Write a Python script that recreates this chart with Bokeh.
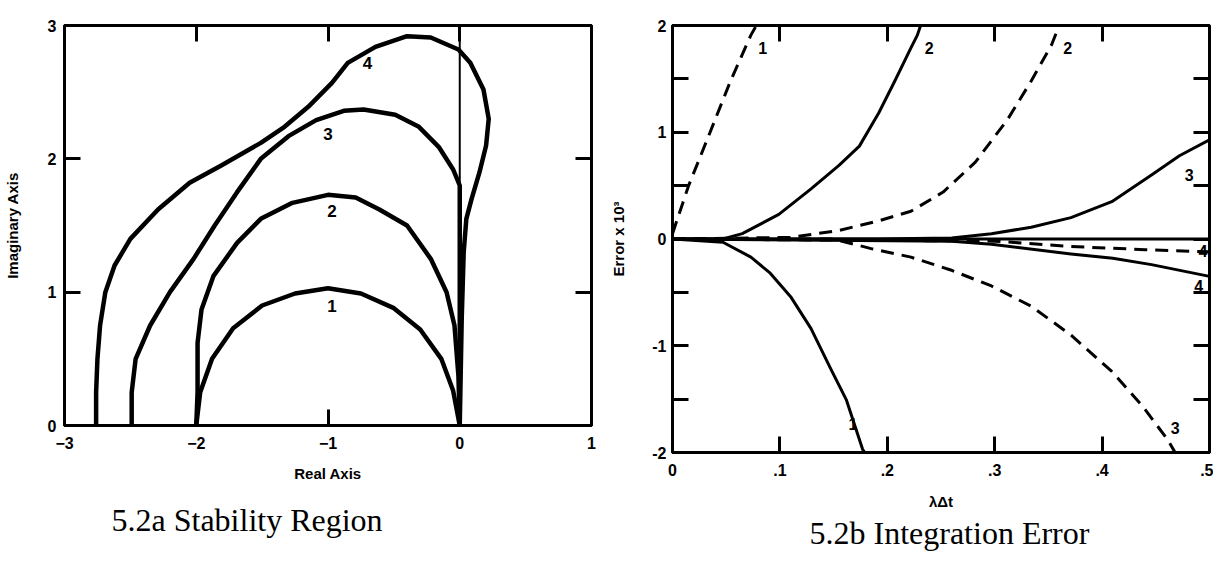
from bokeh.plotting import figure
from bokeh.models import Range1d, LinearAxis, FixedTicker, CustomJSTickFormatter, Span, Title
from bokeh.layouts import row
from bokeh.embed import file_html
from bokeh.resources import INLINE
from bokeh.core.properties import value

# ---------------- data: 5.2a stability region ----------------
c1_x = [-2.0, -1.97, -1.88, -1.72, -1.5, -1.25, -1.0, -0.75, -0.5, -0.3, -0.14, -0.05, 0.0]
c1_y = [0.0, 0.25, 0.5, 0.73, 0.9, 0.99, 1.03, 0.99, 0.88, 0.72, 0.5, 0.26, 0.0]

c2_x = [-2.0, -1.99, -1.99, -1.96, -1.87, -1.69, -1.51, -1.27, -1.0, -0.79, -0.61, -0.4, -0.22, -0.1, -0.04, -0.01, 0.0]
c2_y = [0.0, 0.25, 0.62, 0.87, 1.12, 1.37, 1.55, 1.67, 1.73, 1.71, 1.62, 1.5, 1.25, 1.0, 0.75, 0.37, 0.0]

c3_x = [-2.49, -2.49, -2.46, -2.35, -2.2, -2.02, -1.86, -1.69, -1.51, -1.3, -1.09, -0.88, -0.73,
        -0.49, -0.31, -0.16, -0.05, 0.0, 0.0, 0.0]
c3_y = [0.0, 0.25, 0.5, 0.75, 1.0, 1.25, 1.5, 1.75, 2.0, 2.17, 2.29, 2.36, 2.37,
        2.33, 2.24, 2.09, 1.92, 1.8, 1.2, 0.0]

c4_x = [-2.76, -2.76, -2.75, -2.73, -2.69, -2.62, -2.5, -2.29, -2.05, -1.81, -1.51, -1.33, -1.15,
        -0.97, -0.85, -0.64, -0.4, -0.22, -0.01, 0.08, 0.18, 0.22, 0.2, 0.15, 0.09, 0.05, 0.03, 0.015, 0.0]
c4_y = [0.0, 0.25, 0.5, 0.75, 1.0, 1.2, 1.4, 1.62, 1.82, 1.95, 2.12, 2.24, 2.39,
        2.57, 2.72, 2.84, 2.92, 2.91, 2.82, 2.72, 2.52, 2.3, 2.1, 1.9, 1.7, 1.55, 1.3, 0.8, 0.0]

a_lab_x = [-0.97, -0.97, -1.0, -0.70]
a_lab_y = [0.9, 1.61, 2.19, 2.72]
a_lab_t = ["1", "2", "3", "4"]

a_xticks = [-3, -2, -1, 0, 1]
a_yticks = [0, 1, 2, 3]

# ---------------- data: 5.2b integration error ----------------
s1_x = [0.0, 0.047, 0.073, 0.091, 0.11, 0.129, 0.147, 0.162, 0.177, 0.179]
s1_y = [0.0, -0.03, -0.17, -0.32, -0.54, -0.84, -1.21, -1.51, -1.97, -2.0]

d1_x = [0.0, 0.015, 0.035, 0.054, 0.073, 0.078]
d1_y = [0.05, 0.5, 1.0, 1.48, 1.91, 2.0]

s2_x = [0.0, 0.047, 0.065, 0.099, 0.129, 0.155, 0.174, 0.192, 0.207, 0.222, 0.228, 0.231]
s2_y = [0.0, 0.0, 0.05, 0.23, 0.47, 0.69, 0.87, 1.18, 1.48, 1.79, 1.91, 2.0]

d2_x = [0.0, 0.11, 0.155, 0.192, 0.222, 0.252, 0.282, 0.312, 0.334, 0.353, 0.36]
d2_y = [0.0, 0.015, 0.08, 0.17, 0.26, 0.44, 0.72, 1.12, 1.48, 1.82, 2.0]

s3_x = [0.0, 0.19, 0.26, 0.297, 0.334, 0.371, 0.409, 0.446, 0.472, 0.5]
s3_y = [0.0, 0.0, 0.01, 0.05, 0.11, 0.2, 0.35, 0.6, 0.78, 0.93]

d3_x = [0.0, 0.15, 0.185, 0.222, 0.259, 0.297, 0.334, 0.371, 0.409, 0.438, 0.461, 0.468]
d3_y = [0.0, 0.0, -0.09, -0.17, -0.29, -0.44, -0.63, -0.9, -1.24, -1.57, -1.88, -2.0]

s4_x = [0.0, 0.26, 0.297, 0.371, 0.41, 0.446, 0.5]
s4_y = [0.0, -0.02, -0.05, -0.14, -0.18, -0.24, -0.35]

d4_x = [0.0, 0.3, 0.371, 0.44, 0.5]
d4_y = [0.0, -0.02, -0.07, -0.1, -0.12]

b_lab_x = [0.084, 0.239, 0.368, 0.481, 0.168, 0.468, 0.49, 0.494]
b_lab_y = [1.79, 1.79, 1.79, 0.6, -1.73, -1.77, -0.44, -0.11]
b_lab_t = ["1", "2", "2", "3", "1", "3", "4", "4"]

b_xticks = [0, 0.1, 0.2, 0.3, 0.4, 0.5]
b_yticks = [-2, -1, 0, 1, 2]
b_yminor = [-1.5, -0.5, 0.5, 1.5]

SANS = "Liberation Sans"
SERIF = "Liberation Serif"
BLANK = CustomJSTickFormatter(code="return ''")


def base_axis(ax, ticks, tick_len, minor=None):
    ax.ticker = FixedTicker(ticks=ticks, minor_ticks=minor or [])
    ax.major_tick_in = tick_len
    ax.major_tick_out = 0
    ax.minor_tick_in = tick_len if minor else 0
    ax.minor_tick_out = 0
    ax.major_tick_line_width = 3
    ax.minor_tick_line_width = 3
    ax.axis_line_width = 3
    ax.axis_line_color = "black"
    ax.major_label_text_font = SANS
    ax.major_label_text_font_style = "bold"
    ax.major_label_text_font_size = "16px"
    ax.major_label_text_color = "black"
    ax.axis_label_text_font = SANS
    ax.axis_label_text_font_style = "bold"
    ax.axis_label_text_font_size = "15px"
    ax.axis_label_text_color = "black"


def mirror(p, side, ticks, tick_len, minor=None):
    ax = LinearAxis()
    base_axis(ax, ticks, tick_len, minor)
    ax.formatter = BLANK
    ax.major_label_standoff = 0
    p.add_layout(ax, side)


# ---------------- figure a ----------------
pa = figure(output_backend="svg", toolbar_location=None, tools="",
            frame_width=527, frame_height=400,
            x_range=Range1d(-3, 1), y_range=Range1d(0, 3),
            min_border_left=57, min_border_right=16, min_border_top=25, min_border_bottom=126)
pa.grid.visible = False
pa.outline_line_color = "black"
pa.outline_line_width = 3

base_axis(pa.xaxis[0], a_xticks, 16)
pa.xaxis[0].axis_label = "Real Axis"
pa.xaxis[0].major_label_standoff = 11
pa.xaxis[0].axis_label_standoff = 13
base_axis(pa.yaxis[0], a_yticks, 16)
pa.yaxis[0].axis_label = "Imaginary Axis"
pa.yaxis[0].major_label_standoff = 8
pa.yaxis[0].axis_label_standoff = 24
pa.yaxis[0].major_label_orientation = "horizontal"
mirror(pa, "above", [-2, -1, 0], 16)
mirror(pa, "right", [1, 2], 16)

pa.add_layout(Span(location=0, dimension="height", line_color="black", line_width=2))
for xs, ys in [(c1_x, c1_y), (c2_x, c2_y), (c3_x, c3_y), (c4_x, c4_y)]:
    pa.line(xs, ys, line_color="black", line_width=4.5, line_join="round", line_cap="round")
pa.text(a_lab_x, a_lab_y, text=a_lab_t, text_font=value(SANS), text_font_style="bold",
        text_font_size="17px", text_align="center", text_baseline="middle", text_color="black")
pa.add_layout(Title(text="5.2a Stability Region", align="left", offset=47,
                    text_font=SERIF, text_font_size="32px", text_font_style="normal",
                    text_color="black", standoff=30), "below")

# ---------------- figure b ----------------
pb = figure(output_backend="svg", toolbar_location=None, tools="",
            frame_width=537, frame_height=427,
            x_range=Range1d(0, 0.5), y_range=Range1d(-2, 2),
            min_border_left=57, min_border_right=4, min_border_top=12, min_border_bottom=112)
pb.grid.visible = False
pb.outline_line_color = "black"
pb.outline_line_width = 3

base_axis(pb.xaxis[0], b_xticks, 16)
pb.xaxis[0].formatter = CustomJSTickFormatter(
    code="return tick == 0 ? '0' : '.' + Math.round(tick * 10);")
pb.xaxis[0].axis_label = "λΔt"
pb.xaxis[0].major_label_standoff = 11
pb.xaxis[0].axis_label_standoff = 14
base_axis(pb.yaxis[0], b_yticks, 16, b_yminor)
pb.yaxis[0].formatter = CustomJSTickFormatter(code="return tick < 0 ? '-' + (-tick) : '' + tick;")
pb.yaxis[0].axis_label = "Error x 10³"
pb.yaxis[0].major_label_standoff = 6
pb.yaxis[0].axis_label_standoff = 22
pb.yaxis[0].major_label_orientation = "horizontal"
mirror(pb, "above", [0.1, 0.2, 0.3, 0.4], 16)
mirror(pb, "right", b_yticks, 16, b_yminor)

pb.add_layout(Span(location=0, dimension="width", line_color="black", line_width=3))
for xs, ys in [(s1_x, s1_y), (s2_x, s2_y), (s3_x, s3_y), (s4_x, s4_y)]:
    pb.line(xs, ys, line_color="black", line_width=3, line_join="round")
for xs, ys in [(d1_x, d1_y), (d2_x, d2_y), (d3_x, d3_y), (d4_x, d4_y)]:
    pb.line(xs, ys, line_color="black", line_width=3, line_dash="13 8")
pb.text(b_lab_x, b_lab_y, text=b_lab_t, text_font=value(SANS), text_font_style="bold",
        text_font_size="16px", text_align="center", text_baseline="middle", text_color="black")
pb.add_layout(Title(text="5.2b Integration Error", align="left", offset=137,
                    text_font=SERIF, text_font_size="32px", text_font_style="normal",
                    text_color="black", standoff=0), "below")

layout = row(pa, pb)
open("out.html", "w").write(file_html(layout, INLINE))
